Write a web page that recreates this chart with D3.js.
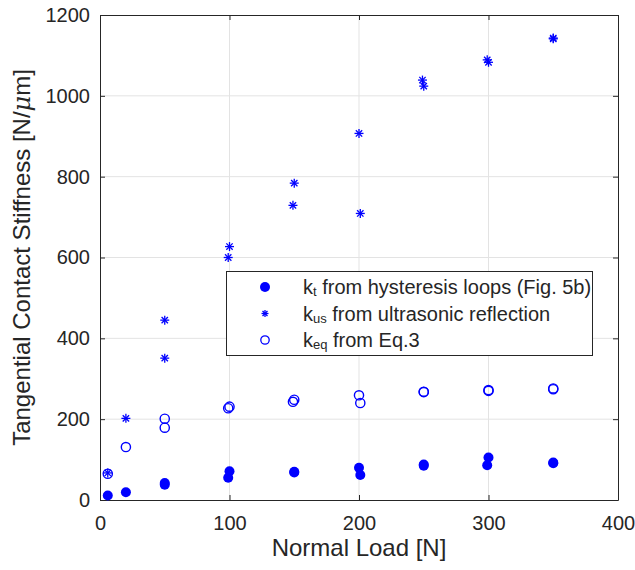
<!DOCTYPE html>
<html>
<head>
<meta charset="utf-8">
<script src="https://cdn.jsdelivr.net/npm/d3@7"></script>
<style>
  body { margin: 0; background: #fff; }
  text { font-family: "Liberation Sans", Arial, sans-serif; fill: #262626; }
</style>
</head>
<body>
<main></main>
<script>
// values
let loads_kt  = [6, 20, 50, 50, 99, 100, 150, 150, 200, 201, 250, 250, 299, 300, 350, 350]
let kt        = [11, 19, 38, 42, 55, 71, 68, 70, 80, 62, 85, 88, 86, 105, 91, 93]
let loads_kus = [6, 20, 50, 50, 99, 100, 149, 150, 200, 201, 249, 250, 299, 300, 350, 350]
let kus       = [67, 202, 351, 445, 600, 627, 729, 784, 907, 709, 1039, 1024, 1089, 1083, 1141, 1143]
let loads_keq = [6, 20, 50, 50, 99, 100, 149, 150, 200, 201, 250, 250, 300, 300, 350, 350]
let keq       = [65, 131, 179, 201, 227, 231, 243, 248, 259, 240, 267, 268, 270, 272, 274, 276]
let xTicks = [0, 100, 200, 300, 400]
let yTicks = [0, 200, 400, 600, 800, 1000, 1200]

let blue = '#0000ff'
let axisCol = '#262626'

let svg = d3.select('main').append('svg')
    .attr('width', 635)
    .attr('height', 570)
    .style('display', 'block')

let x = d3.scaleLinear().domain([0, 400]).range([100, 618])
let y = d3.scaleLinear().domain([0, 1200]).range([500, 15])

// grid
svg.append('g').selectAll('line').data(xTicks.slice(1, -1)).join('line')
    .attr('x1', d => x(d)).attr('x2', d => x(d))
    .attr('y1', y(1200)).attr('y2', y(0))
    .attr('stroke', '#e3e3e3').attr('stroke-width', 1)
svg.append('g').selectAll('line').data(yTicks.slice(1, -1)).join('line')
    .attr('x1', x(0)).attr('x2', x(400))
    .attr('y1', d => y(d)).attr('y2', d => y(d))
    .attr('stroke', '#e3e3e3').attr('stroke-width', 1)

// axes with inward ticks (box on)
let fontSize = '20px'
let fmt = d3.format('d')
let styleAxis = g => {
    g.select('.domain').attr('stroke', axisCol)
    g.selectAll('.tick line').attr('stroke', axisCol)
    g.selectAll('.tick text').style('font-size', fontSize).attr('fill', axisCol)
        .style('font-family', '"Liberation Sans", Arial, sans-serif')
}
svg.append('g').attr('transform', `translate(0,${y(0)})`)
    .call(d3.axisBottom(x).tickValues(xTicks).tickFormat(fmt).tickSizeInner(-5).tickSizeOuter(0).tickPadding(16))
    .call(styleAxis)
svg.append('g').attr('transform', `translate(0,${y(1200)})`)
    .call(d3.axisTop(x).tickValues(xTicks).tickSizeInner(-5).tickSizeOuter(0).tickFormat(''))
    .call(styleAxis)
svg.append('g').attr('transform', `translate(${x(0)},0)`)
    .call(d3.axisLeft(y).tickValues(yTicks).tickFormat(fmt).tickSizeInner(-5).tickSizeOuter(0).tickPadding(10))
    .call(styleAxis)
svg.append('g').attr('transform', `translate(${x(400)},0)`)
    .call(d3.axisRight(y).tickValues(yTicks).tickSizeInner(-5).tickSizeOuter(0).tickFormat(''))
    .call(styleAxis)

// axis labels
svg.append('text')
    .attr('x', x(200)).attr('y', 556)
    .attr('text-anchor', 'middle')
    .style('font-size', '24px')
    .text('Normal Load [N]')
let yl = svg.append('text')
    .attr('transform', `translate(30,${(y(0) + y(1200)) / 2}) rotate(-90)`)
    .attr('text-anchor', 'middle')
    .style('font-size', '24px')
yl.append('tspan').text('Tangential Contact Stiffness [N/')
yl.append('tspan').text('μ').style('font-style', 'italic').style('font-family', '"DejaVu Serif", serif')
yl.append('tspan').text('m]')

// marker shapes
function star(g, cx, cy, r) {
    for (let a of [0, 45, 90, 135]) {
        let t = a * Math.PI / 180
        g.append('line')
            .attr('x1', cx - r * Math.cos(t)).attr('y1', cy - r * Math.sin(t))
            .attr('x2', cx + r * Math.cos(t)).attr('y2', cy + r * Math.sin(t))
            .attr('stroke', blue).attr('stroke-width', 1.3)
    }
}

// kt: filled circles
svg.append('g').selectAll('circle').data(d3.zip(loads_kt, kt)).join('circle')
    .attr('cx', d => x(d[0])).attr('cy', d => y(d[1]))
    .attr('r', 5).attr('fill', blue)

// kus: asterisks
let gs = svg.append('g')
d3.zip(loads_kus, kus).forEach(d => star(gs, x(d[0]), y(d[1]), 4.5))

// keq: open circles
svg.append('g').selectAll('circle').data(d3.zip(loads_keq, keq)).join('circle')
    .attr('cx', d => x(d[0])).attr('cy', d => y(d[1]))
    .attr('r', 4.6).attr('fill', 'none').attr('stroke', blue).attr('stroke-width', 1.4)

// legend
let lg = svg.append('g')
lg.append('rect')
    .attr('x', 226.5).attr('y', 271.5).attr('width', 366).attr('height', 84)
    .attr('fill', '#fff').attr('stroke', axisCol).attr('stroke-width', 1)
let rows = [
    ['k', 't', ' from hysteresis loops (Fig. 5b)'],
    ['k', 'us', ' from ultrasonic reflection'],
    ['k', 'eq', ' from Eq.3']
]
rows.forEach((r, i) => {
    let cy = 287 + i * 26.5
    if (i === 0) lg.append('circle').attr('cx', 265).attr('cy', cy).attr('r', 5).attr('fill', blue)
    if (i === 1) star(lg, 265, cy, 3.5)
    if (i === 2) lg.append('circle').attr('cx', 265).attr('cy', cy).attr('r', 4.2)
        .attr('fill', 'none').attr('stroke', blue).attr('stroke-width', 1.3)
    let t = lg.append('text').attr('x', 303).attr('y', cy + 7).style('font-size', '20px')
    t.append('tspan').text(r[0])
    t.append('tspan').text(r[1]).style('font-size', '13px').attr('dy', 2)
    t.append('tspan').text(r[2]).attr('dy', -2)
})
</script>
</body>
</html>
